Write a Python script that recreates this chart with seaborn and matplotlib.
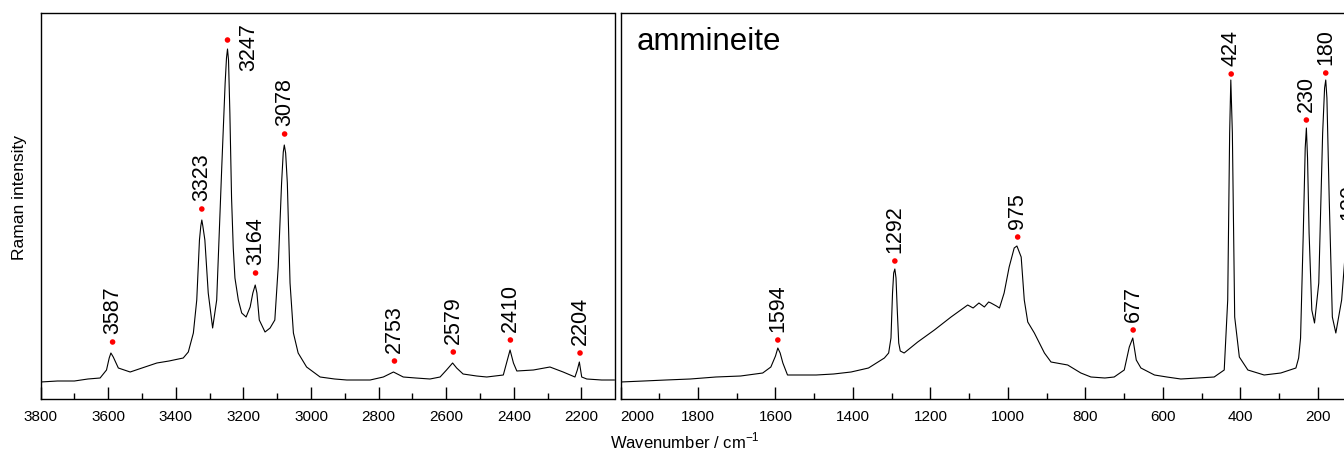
import matplotlib
matplotlib.use("Agg")
import matplotlib.pyplot as plt
import pandas as pd
import seaborn as sns
from matplotlib.ticker import MultipleLocator, FixedLocator

# ---------------- data ----------------
left_wavenumber = [3800, 3750, 3700, 3660, 3624, 3605, 3597, 3592, 3585, 3570, 3535, 3500,
                   3456, 3420, 3378, 3363, 3348, 3338, 3330, 3326, 3323, 3320, 3314, 3304,
                   3291, 3279, 3264, 3254, 3250, 3247, 3244, 3240, 3235, 3230, 3225, 3215,
                   3205, 3192, 3180, 3172, 3165, 3160, 3153, 3136, 3121, 3107, 3097, 3087,
                   3082, 3079, 3075, 3070, 3062, 3052, 3038, 3013, 2973, 2930, 2894, 2860,
                   2825, 2786, 2756, 2727, 2690, 2648, 2618, 2599, 2581, 2569, 2550, 2510,
                   2480, 2431, 2419, 2411, 2401, 2391, 2342, 2293, 2254, 2219, 2212, 2206,
                   2199, 2184, 2140, 2102]
left_intensity = [16, 17, 17, 19, 20, 28, 40, 45, 41, 30, 26, 30,
                  35, 37, 40, 46, 65, 98, 158, 172, 178, 172, 158, 105,
                  70, 98, 231, 315, 340, 349, 338, 285, 200, 150, 120, 98,
                  85, 81, 91, 105, 113, 105, 78, 66, 70, 78, 131, 215,
                  246, 253, 245, 215, 115, 65, 45, 31, 21, 19, 18, 18,
                  18, 21, 26, 21, 20, 19, 21, 28, 35, 30, 24, 22,
                  21, 23, 38, 48, 35, 27, 28, 31, 26, 21, 28, 36,
                  21, 19, 18, 18]

right_wavenumber = [2000, 1940, 1883, 1820, 1754, 1690, 1633, 1612, 1600, 1594, 1588, 1581,
                    1569, 1530, 1495, 1450, 1405, 1360, 1319, 1308, 1302, 1298, 1295, 1292,
                    1289, 1286, 1282, 1278, 1268, 1233, 1190, 1147, 1104, 1090, 1075, 1061,
                    1050, 1044, 1030, 1022, 1010, 997, 984, 977, 966, 958, 949, 932,
                    906, 889, 846, 812, 786, 750, 726, 700, 687, 678, 669, 657,
                    622, 590, 554, 510, 468, 442, 433, 428, 425, 421, 415, 403,
                    381, 339, 296, 257, 250, 245, 238, 233, 230, 227, 223, 216,
                    209, 198, 188, 183, 180, 177, 171, 163, 154, 139, 129, 124,
                    120]
right_intensity = [16, 17, 18, 19, 21, 22, 25, 31, 42, 50, 45, 35,
                   23, 23, 23, 24, 26, 30, 40, 45, 60, 105, 125, 129,
                   120, 90, 55, 47, 45, 56, 68, 81, 93, 90, 95, 91,
                   96, 95, 92, 90, 105, 131, 150, 152, 141, 98, 76, 65,
                   45, 36, 33, 25, 21, 20, 21, 28, 51, 60, 38, 30,
                   23, 21, 19, 20, 21, 28, 98, 265, 318, 265, 81, 41,
                   28, 23, 25, 30, 40, 60, 165, 250, 270, 240, 165, 88,
                   75, 115, 265, 310, 318, 300, 198, 81, 65, 98, 148, 158,
                   160]

left_peaks = [3587, 3323, 3247, 3164, 3078, 2753, 2579, 2410, 2204]
left_peak_marks = [56, 189, 358, 125, 264, 37, 46, 58, 45]
right_peaks = [1594, 1292, 975, 677, 424, 230, 180, 120]
right_peak_marks = [58, 137, 161, 68, 324, 278, 325, 170]

left_ticks = [3800, 3600, 3400, 3200, 3000, 2800, 2600, 2400, 2200]
right_ticks = [2000, 1800, 1600, 1400, 1200, 1000, 800, 600, 400, 200]
sample_name = "ammineite"
x_title = r"Wavenumber / cm$^{\mathregular{-1}}$"
y_title = "Raman intensity"

# ---------------- style ----------------
sns.set_style("white")
plt.rcParams["font.family"] = ["Liberation Sans", "DejaVu Sans"]
plt.rcParams["axes.edgecolor"] = "black"
plt.rcParams["axes.linewidth"] = 1.0
plt.rcParams["text.color"] = "black"
plt.rcParams["axes.labelcolor"] = "black"
plt.rcParams["xtick.color"] = "black"
plt.rcParams["ytick.color"] = "black"

W, H = 1344, 453
fig = plt.figure(figsize=(W / 100, H / 100), dpi=100)
bottom_px, top_px = 399, 13
ax1 = fig.add_axes([40.6 / W, 1 - bottom_px / H, (614.5 - 40.6) / W, (bottom_px - top_px) / H])
ax2 = fig.add_axes([620.5 / W, 1 - bottom_px / H, (1380 - 620.5) / W, (bottom_px - top_px) / H])

left_df = pd.DataFrame({"wn": left_wavenumber, "I": left_intensity})
right_df = pd.DataFrame({"wn": right_wavenumber, "I": right_intensity})

for ax, df, peaks, marks, ticks, xlim in [
    (ax1, left_df, left_peaks, left_peak_marks, left_ticks, (3800, 2102)),
    (ax2, right_df, right_peaks, right_peak_marks, right_ticks, (2000, 40)),
]:
    sns.lineplot(data=df, x="wn", y="I", ax=ax, color="black", linewidth=0.8,
                 estimator=None, sort=False)
    sns.scatterplot(x=peaks, y=marks, ax=ax, color="#ff0000", s=16,
                    edgecolor="none", zorder=5)
    ax.set_xlim(*xlim)
    ax.set_ylim(-1, 385)
    ax.set_yticks([])
    ax.set_xlabel("")
    ax.set_ylabel("")
    ax.xaxis.set_major_locator(FixedLocator(ticks))
    ax.xaxis.set_minor_locator(MultipleLocator(100))
    ax.set_xticklabels([str(t) for t in ticks])
    ax.tick_params(axis="x", which="major", direction="in", length=8.5, width=1.0,
                   pad=8, labelsize=11, bottom=True, top=False, colors="black")
    ax.tick_params(axis="x", which="minor", direction="in", length=4, width=1.0,
                   bottom=True, top=False)
    for s in ax.spines.values():
        s.set_visible(True)
        s.set_color("black")
        s.set_linewidth(1.0)
    for p, m in zip(peaks, marks):
        if p == 3247:
            ax.annotate(str(p), xy=(p, m), xytext=(15, 12), textcoords="offset points",
                        rotation=90, ha="center", va="top", fontsize=15.5,
                        color="black", annotation_clip=False)
        else:
            ax.annotate(str(p), xy=(p, m), xytext=(0, 6), textcoords="offset points",
                        rotation=90, ha="center", va="bottom", fontsize=15.5,
                        color="black", annotation_clip=False)

# first label on right panel sits to the right of its tick
ax2.get_xticklabels()[0].set_horizontalalignment("left")

ax2.text(0.021, 0.905, sample_name, transform=ax2.transAxes, fontsize=22.5,
         ha="left", va="baseline", color="black")

fig.text(20 / W, 1 - 197 / H, y_title, rotation=90, ha="center", va="center",
         fontsize=12.5, color="black")
fig.text(610 / W, 1 - 441 / H, x_title, ha="left", va="center", fontsize=12,
         color="black")

fig.savefig("out.png", dpi=100)
